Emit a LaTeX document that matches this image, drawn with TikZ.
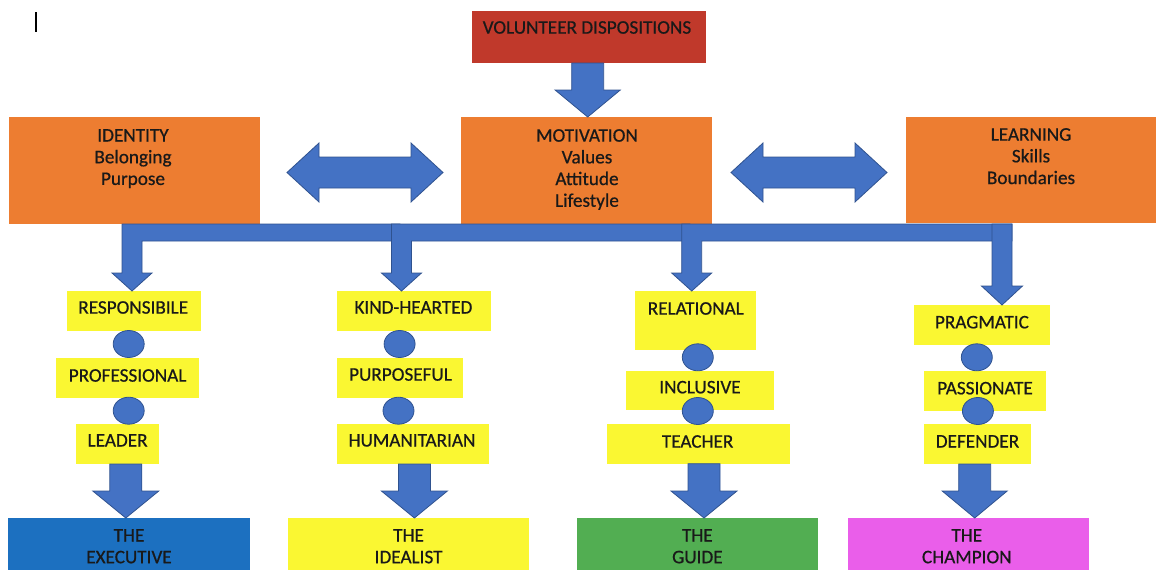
\documentclass[tikz,border=0pt]{standalone}
\usepackage{fontspec}
\setmainfont{Carlito}
\newfontfamily\lblfont{Carlito}[FakeBold=0.6]
\usetikzlibrary{calc,fit,shapes.geometric}
\definecolor{vdred}{RGB}{192,57,43}
\definecolor{orng}{RGB}{237,125,49}
\definecolor{blk}{RGB}{68,114,196}
\definecolor{blkline}{RGB}{47,82,143}
\definecolor{yel}{RGB}{250,247,50}
\definecolor{execblue}{RGB}{28,112,192}
\definecolor{grn}{RGB}{82,174,82}
\definecolor{mag}{RGB}{234,94,234}
\tikzset{
  blockarrow/.style={fill=blk,draw=blkline,line width=0.8pt,line join=miter},
  box/.style={inner sep=0pt,outer sep=0pt,draw=none},
  txt/.style={inner sep=0pt,anchor=north,align=center,text=black!90,font=\lblfont\fontsize{19.2}{21.7}\selectfont},
  dot/.style={ellipse,fill=blk,draw=blkline,line width=0.8pt,minimum width=31pt,minimum height=27pt,inner sep=0pt}
}
\newcommand\blockdown[5]{%
  \filldraw[blockarrow] let \p1=(#1), \p2=(#2) in
  (\x2-#3pt,\y1) -- (\x2+#3pt,\y1) -- (\x2+#3pt,\y2+#5pt) -- (\x2+#4pt,\y2+#5pt) -- (\x2,\y2)
  -- (\x2-#4pt,\y2+#5pt) -- (\x2-#3pt,\y2+#5pt) -- cycle;}
\newcommand\blockdouble[2]{%
  \filldraw[blockarrow] let \p1=(#1), \p2=(#2) in
  (\x1,\y1) -- (\x1+32pt,\y1+29.5pt) -- (\x1+32pt,\y1+15.5pt) -- (\x2-32pt,\y1+15.5pt)
  -- (\x2-32pt,\y1+29.5pt) -- (\x2,\y1) -- (\x2-32pt,\y1-29.5pt) -- (\x2-32pt,\y1-15.5pt)
  -- (\x1+32pt,\y1-15.5pt) -- (\x1+32pt,\y1-29.5pt) -- cycle;}
\newcommand\bentarrow[4]{%
  \filldraw[blockarrow] let \p1=(#1), \p2=(#2), \p3=(#3) in
  (\x1-10pt,\y2) -- (\x3,\y2) -- (\x3,\y2-17pt) -- (\x1+10pt,\y2-17pt) -- (\x1+10pt,\y1+#4pt)
  -- (\x1+20pt,\y1+#4pt) -- (\x1,\y1) -- (\x1-20pt,\y1+#4pt) -- (\x1-10pt,\y1+#4pt) -- cycle;}
\begin{document}
\begin{tikzpicture}[x=1pt,y=-1pt]
\useasboundingbox (0,0) rectangle (1157,570);
% cursor mark
\draw[line width=1.1pt] (36,12) -- (36,32);
% top boxes
\node[box,fill=vdred,fit={(472,11) (706,63)}] (vd) {};
\node[box,fill=orng,fit={(9,117) (260,224)}] (id) {};
\node[box,fill=orng,fit={(461,117) (712,224)}] (mot) {};
\node[box,fill=orng,fit={(906,117) (1156,223)}] (learn) {};
\node[txt] (vdt) at (587,21) {VOLUNTEER DISPOSITIONS};
\node[txt] (idt) at (133,129) {IDENTITY\\Belonging\\Purpose};
\node[txt] (mott) at (587,129) {MOTIVATION\\Values\\Attitude\\Lifestyle};
\node[txt] (learnt) at (1031,128) {LEARNING\\Skills\\Boundaries};
% trait boxes
\node[box,fill=yel,fit={(67,291) (200.5,331)}] (resp) {};
\node[box,fill=yel,fit={(56,358) (198.7,398)}] (prof) {};
\node[box,fill=yel,fit={(76,424) (159,464)}] (lead) {};
\node[box,fill=yel,fit={(337,291) (491,331)}] (kind) {};
\node[box,fill=yel,fit={(337,358) (463,398)}] (purp) {};
\node[box,fill=yel,fit={(337,424) (488.7,464)}] (hum) {};
\node[box,fill=yel,fit={(634.8,291) (755.6,349.7)}] (rel) {};
\node[box,fill=yel,fit={(626,370.7) (774,410)}] (incl) {};
\node[box,fill=yel,fit={(606.5,424) (790,463.7)}] (teach) {};
\node[box,fill=yel,fit={(914,305) (1050,345)}] (prag) {};
\node[box,fill=yel,fit={(924,371) (1045.6,411)}] (pass) {};
\node[box,fill=yel,fit={(924,424) (1031,464)}] (def) {};
\node[txt] (respt) at (133.2,301) {RESPONSIBILE};
\node[txt] (proft) at (127.6,369) {PROFESSIONAL};
\node[txt] (leadt) at (117.6,434) {LEADER};
\node[txt] (kindt) at (413.4,301) {KIND-HEARTED};
\node[txt] (purpt) at (400.5,368) {PURPOSEFUL};
\node[txt] (humt) at (412,434) {HUMANITARIAN};
\node[txt] (relt) at (695.8,302) {RELATIONAL};
\node[txt] (inclt) at (700,380.7) {INCLUSIVE};
\node[txt] (teacht) at (697.6,435) {TEACHER};
\node[txt] (pragt) at (981.9,315.7) {PRAGMATIC};
\node[txt] (passt) at (985,381.7) {PASSIONATE};
\node[txt] (deft) at (977.5,435) {DEFENDER};
% dots
\node[dot] (d11) at (128.7,344) {};
\node[dot] (d12) at (128.7,410.7) {};
\node[dot] (d21) at (399.6,344) {};
\node[dot] (d22) at (398.5,410.7) {};
\node[dot] (d31) at (697.8,357.3) {};
\node[dot] (d32) at (697.8,411) {};
\node[dot] (d41) at (976.8,357.3) {};
\node[dot] (d42) at (977.9,411) {};
% bottom boxes
\node[box,fill=execblue,fit={(8,518) (249.7,570)}] (exec) {};
\node[box,fill=yel,fit={(288,518) (529,570)}] (ideal) {};
\node[box,fill=grn,fit={(577,518) (818,570)}] (guide) {};
\node[box,fill=mag,fit={(848,518) (1089,570)}] (champ) {};
\node[txt] (exect) at (129,529) {THE\\EXECUTIVE};
\node[txt] (idealt) at (408.6,529) {THE\\IDEALIST};
\node[txt] (guidet) at (697.4,529) {THE\\GUIDE};
\node[txt] (champt) at (966.8,529) {THE\\CHAMPION};
% arrow coordinates
\coordinate (toptip) at (587.7,117);
\coordinate (dal1) at (287,172.5); \coordinate (dar1) at (443,172.5);
\coordinate (dal2) at (731,172.5); \coordinate (dar2) at (887,172.5);
\coordinate (bartop) at (0,224);
\coordinate (b1) at (132,291); \coordinate (e1) at (400,224);
\coordinate (b2) at (401.5,291); \coordinate (e2) at (690,224);
\coordinate (b3) at (691.7,291); \coordinate (e3) at (1012,224);
\coordinate (b4s) at (1002,224); \coordinate (b4) at (1002,305);
\coordinate (t1) at (125.8,518); \coordinate (t2) at (414.4,518);
\coordinate (t3) at (704,518); \coordinate (t4) at (974.7,518);
% arrows
\blockdown{vd.south}{toptip}{16}{32.6}{27}
\blockdouble{dal1}{dar1}
\blockdouble{dal2}{dar2}
\bentarrow{b1}{bartop}{e1}{18}
\bentarrow{b2}{bartop}{e2}{18}
\bentarrow{b3}{bartop}{e3}{18}
\blockdown{b4s}{b4}{10}{20.5}{19}
\blockdown{lead.south}{t1}{16}{33}{27}
\blockdown{hum.south}{t2}{16}{33}{27}
\blockdown{teach.south}{t3}{16}{33}{27}
\blockdown{def.south}{t4}{16}{32.5}{27}
\end{tikzpicture}
\end{document}
